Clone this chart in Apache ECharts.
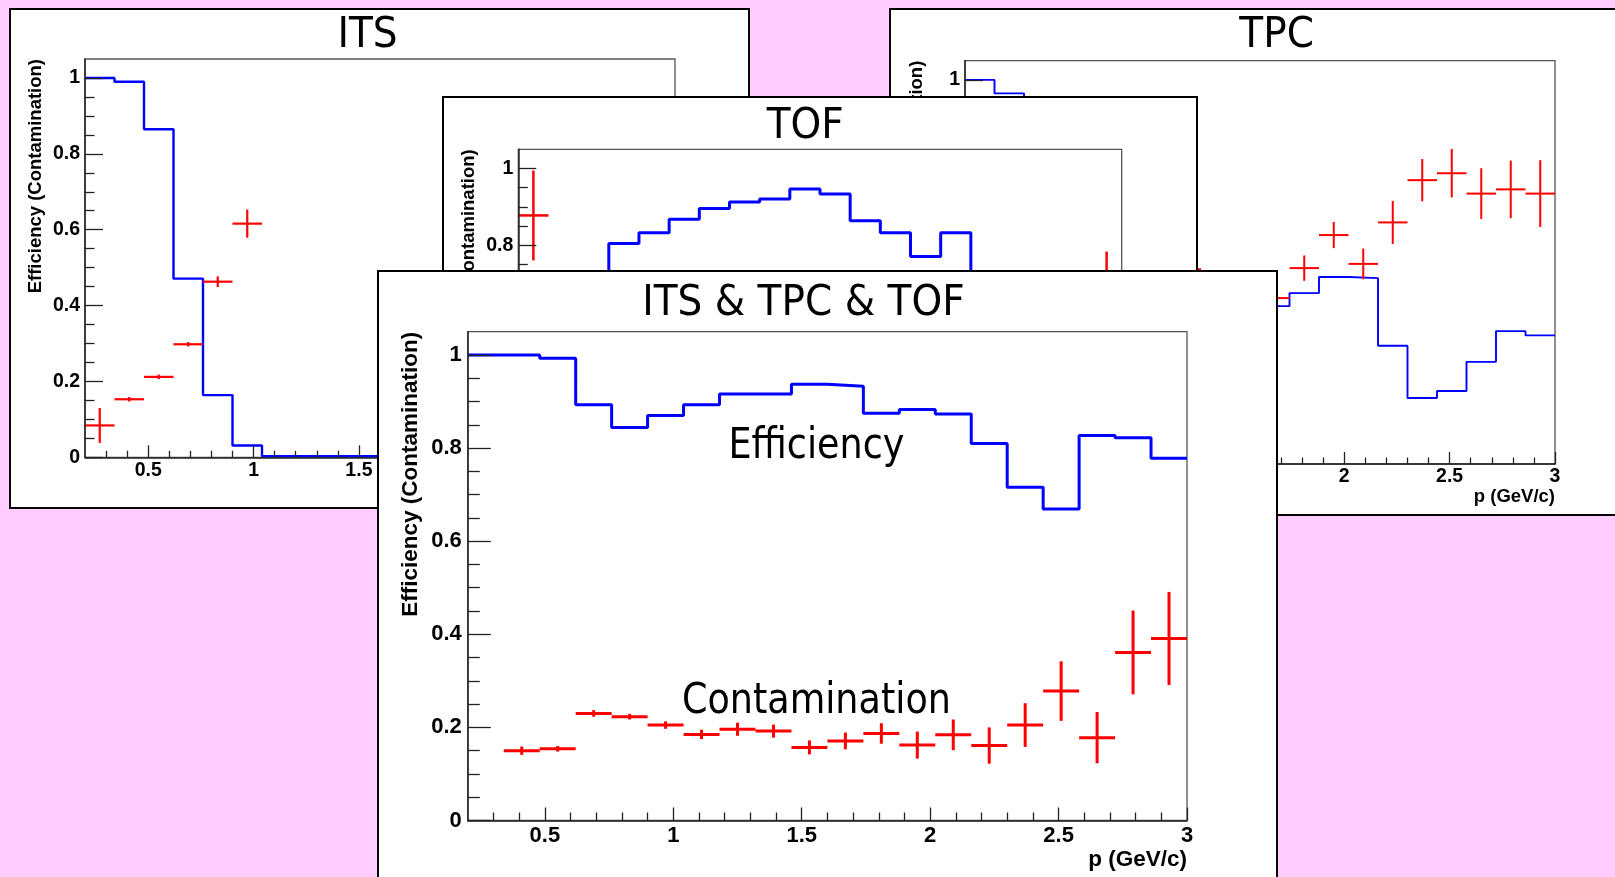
<!DOCTYPE html>
<html>
<head>
<meta charset="utf-8">
<title>Efficiency (Contamination)</title>
<script src="https://cdn.jsdelivr.net/npm/echarts@6.0.0/dist/echarts.min.js"></script>
<style>
	html, body { margin: 0; padding: 0; width: 1615px; height: 877px; overflow: hidden; background: #ffccff; }
	.panel { position: absolute; }
</style>
</head>
<body>
	<div id="its" class="panel" style="left:9px;top:8px;width:741px;height:501px;z-index:1"></div>
	<div id="tpc" class="panel" style="left:889px;top:8px;width:760px;height:508px;z-index:2"></div>
	<div id="tof" class="panel" style="left:442px;top:96px;width:756px;height:480px;z-index:3"></div>
	<div id="all" class="panel" style="left:377px;top:270px;width:901px;height:640px;z-index:4"></div>

	<script type="text/javascript">
		// bins in p (GeV/c)
		var binEdges = [0.2, 0.34, 0.48, 0.62, 0.76, 0.9, 1.04, 1.18, 1.32, 1.46, 1.6,
			1.74, 1.88, 2.02, 2.16, 2.3, 2.44, 2.58, 2.72, 2.86, 3.0];

		// tick positions
		var xMajor = [0.5, 1, 1.5, 2, 2.5, 3];
		var xMinor = [0.3, 0.4, 0.6, 0.7, 0.8, 0.9, 1.1, 1.2, 1.3, 1.4, 1.6, 1.7, 1.8, 1.9,
			2.1, 2.2, 2.3, 2.4, 2.6, 2.7, 2.8, 2.9];
		var yMajor = [0, 0.2, 0.4, 0.6, 0.8, 1];
		var yMinor = [0.05, 0.1, 0.15, 0.25, 0.3, 0.35, 0.45, 0.5, 0.55, 0.65, 0.7, 0.75, 0.85, 0.9, 0.95];

		// ITS (null = bin hidden behind the other pads)
		var itsEff = [1.0, 0.990, 0.865, 0.471, 0.164, 0.031, 0.003, 0.003, 0.003, 0.003,
			null, null, null, null, null, null, null, null, null, null];
		var itsCont = [0.084, 0.153, 0.212, 0.298, 0.463, 0.616, null, null, null, null,
			null, null, null, null, null, null, null, null, null, null];
		var itsContErr = [0.046, 0.006, 0.006, 0.006, 0.014, 0.037, null, null, null, null,
			null, null, null, null, null, null, null, null, null, null];

		// TPC
		var tpcEff = [1.0, 0.965, 0.90, null, null, null, null, null, null, null,
			0.411, 0.445, 0.487, 0.484, 0.308, 0.172, 0.190, 0.266, 0.346, 0.335];
		var tpcCont = [null, null, null, null, null, null, null, 0.507, null, null,
			0.432, 0.510, 0.596, 0.521, 0.629, 0.739, 0.757, 0.704, 0.715, 0.704];
		var tpcContErr = [null, null, null, null, null, null, null, 0.03, null, null,
			0.03, 0.033, 0.034, 0.040, 0.056, 0.055, 0.063, 0.066, 0.075, 0.087];

		// TOF
		var tofEff = [0, 0, 0, 0.805, 0.833, 0.868, 0.896, 0.913, 0.921, 0.947,
			0.934, 0.864, 0.833, 0.771, 0.833, 0.72, null, null, null, null];
		var tofCont = [0.878, null, null, null, null, null, null, null, null, null,
			null, null, null, null, null, null, null, null, null, 0.68];
		var tofContErr = [0.117, null, null, null, null, null, null, null, null, null,
			null, null, null, null, null, null, null, null, null, 0.104];

		// ITS & TPC & TOF
		var allEff = [1.0, 1.0, 0.993, 0.893, 0.844, 0.870, 0.893, 0.916, 0.916, 0.937,
			0.933, 0.875, 0.883, 0.873, 0.810, 0.716, 0.669, 0.827, 0.822, 0.778];
		var allCont = [null, 0.150, 0.154, 0.230, 0.223, 0.205, 0.185, 0.196, 0.192, 0.157,
			0.171, 0.187, 0.162, 0.184, 0.161, 0.205, 0.278, 0.178, 0.361, 0.391];
		var allContErr = [null, 0.009, 0.006, 0.007, 0.006, 0.008, 0.010, 0.014, 0.014, 0.015,
			0.018, 0.022, 0.029, 0.033, 0.039, 0.047, 0.064, 0.055, 0.090, 0.100];

		var boldFont = 'Liberation Sans, Arial, Helvetica, sans-serif';
		var titleFont = 'DejaVu Sans, Verdana, sans-serif';

		// histogram as step points on the bin edges
		function stepData(vals) {
			var pts = [];
			for (var i = 0; i < vals.length; i++) {
				if (vals[i] == null) {
					pts.push([binEdges[i], null]);
					continue;
				}
				pts.push([binEdges[i], vals[i]]);
				pts.push([binEdges[i + 1], vals[i]]);
			}
			return pts;
		}

		// points with x error = half bin, y error bar
		function crossSeries(vals, errs, width) {
			var data = [];
			for (var i = 0; i < vals.length; i++) {
				if (vals[i] == null) continue;
				data.push([(binEdges[i] + binEdges[i + 1]) / 2, vals[i], errs[i], binEdges[i], binEdges[i + 1]]);
			}
			return {
				type: 'custom',
				data: data,
				encode: { x: 0, y: 1 },
				z: 4,
				silent: true,
				renderItem: function(params, api) {
					var v = api.value(1), e = api.value(2);
					var l = api.coord([api.value(3), v]);
					var r = api.coord([api.value(4), v]);
					var t = api.coord([api.value(0), v + e]);
					var b = api.coord([api.value(0), v - e]);
					var st = { stroke: '#ff0000', lineWidth: width };
					return {
						type: 'group',
						children: [
							{ type: 'line', shape: { x1: l[0], y1: l[1], x2: r[0], y2: r[1] }, style: st },
							{ type: 'line', shape: { x1: t[0], y1: t[1], x2: b[0], y2: b[1] }, style: st }
						]
					};
				}
			};
		}

		function drawPanel(id, p) {
			var chart = echarts.init(document.getElementById(id));
			var tickStyle = { color: '#222', width: 1.3 };
			var lbl = { fontFamily: boldFont, fontWeight: 'bold', fontSize: p.labelSize, color: '#000' };

			var graphic = [
				{ type: 'rect', z: 100, silent: true,
					shape: { x: 1, y: 1, width: p.w - 2, height: p.h - 2 },
					style: { fill: 'none', stroke: '#000', lineWidth: 2 } },
				{ type: 'text', z: 10, x: p.titleX, y: p.titleY, scaleX: 0.93,
					style: { text: p.title, fontFamily: titleFont, fontSize: 42, fill: '#000',
						align: 'center', verticalAlign: 'middle' } },
				{ type: 'text', z: 10, x: p.yTitleX, y: p.grid.top, rotation: Math.PI / 2,
					style: { text: 'Efficiency (Contamination)', fontFamily: boldFont, fontWeight: 'bold',
						fontSize: p.titleSize, fill: '#000', align: 'right', verticalAlign: 'middle' } },
				{ type: 'text', z: 10, x: p.grid.left + p.grid.width, y: p.xTitleY,
					style: { text: 'p (GeV/c)', fontFamily: boldFont, fontWeight: 'bold',
						fontSize: p.titleSize, fill: '#000', align: 'right', verticalAlign: 'middle' } }
			];
			if (p.extra) graphic = graphic.concat(p.extra);

			chart.setOption({
				animation: false,
				backgroundColor: '#ffffff',
				grid: { left: p.grid.left, top: p.grid.top, width: p.grid.width, height: p.grid.height,
					show: true, borderColor: '#555', borderWidth: 1.3, backgroundColor: 'transparent' },
				xAxis: [{
					type: 'value', min: 0.2, max: 3, position: 'bottom', offset: 0, z: 5,
					axisLine: { show: true, onZero: false, lineStyle: { color: '#222', width: 1.5 } },
					axisTick: { show: true, inside: true, length: p.xMajorLen, customValues: xMajor, lineStyle: tickStyle },
					axisLabel: Object.assign({ show: true, customValues: xMajor, margin: p.xLabelMargin }, lbl),
					splitLine: { show: false }
				}, {
					type: 'value', min: 0.2, max: 3, position: 'bottom', offset: 0, z: 5,
					axisLine: { show: false },
					axisTick: { show: true, inside: true, length: p.xMinorLen, customValues: xMinor, lineStyle: tickStyle },
					axisLabel: { show: false },
					splitLine: { show: false }
				}],
				yAxis: [{
					type: 'value', min: 0, max: 1.05, position: 'left', offset: 0, z: 5,
					axisLine: { show: true, onZero: false, lineStyle: { color: '#222', width: 1.5 } },
					axisTick: { show: true, inside: true, length: p.yMajorLen, customValues: yMajor, lineStyle: tickStyle },
					axisLabel: Object.assign({ show: true, customValues: yMajor, margin: p.yLabelMargin }, lbl),
					splitLine: { show: false }
				}, {
					type: 'value', min: 0, max: 1.05, position: 'left', offset: 0, z: 5,
					axisLine: { show: false },
					axisTick: { show: true, inside: true, length: p.yMinorLen, customValues: yMinor, lineStyle: tickStyle },
					axisLabel: { show: false },
					splitLine: { show: false }
				}],
				series: [{
					type: 'line',
					data: stepData(p.eff),
					symbol: 'none',
					connectNulls: false,
					silent: true,
					z: 3,
					lineStyle: { color: '#0000ff', width: p.effWidth },
					itemStyle: { color: '#0000ff' }
				}, crossSeries(p.cont, p.err, p.contWidth)],
				graphic: graphic
			});
		}

		var small = { labelSize: 19.5, titleSize: 18.5, xMajorLen: 12, xMinorLen: 6.5,
			yMajorLen: 18, yMinorLen: 9.5, xLabelMargin: 3, yLabelMargin: 5 };

		drawPanel('its', Object.assign({}, small, {
			w: 741, h: 501, grid: { left: 76, top: 51, width: 590, height: 398.3 },
			title: 'ITS', titleX: 358.5, titleY: 28.5, yTitleX: 27.2, xTitleY: 489,
			eff: itsEff, cont: itsCont, err: itsContErr, effWidth: 2.4, contWidth: 2.2
		}));

		drawPanel('tpc', Object.assign({}, small, {
			w: 760, h: 508, grid: { left: 76, top: 52.7, width: 590, height: 403.3 },
			title: 'TPC', titleX: 387.7, titleY: 28.5, yTitleX: 28.4, xTitleY: 489.4,
			eff: tpcEff, cont: tpcCont, err: tpcContErr, effWidth: 1.9, contWidth: 2
		}));

		drawPanel('tof', Object.assign({}, small, {
			w: 756, h: 480, grid: { left: 76.3, top: 53.3, width: 603.4, height: 404.7 },
			title: 'TOF', titleX: 363.3, titleY: 31.3, yTitleX: 27.2, xTitleY: 470,
			eff: tofEff, cont: tofCont, err: tofContErr, effWidth: 3, contWidth: 2.5
		}));

		drawPanel('all', {
			w: 901, h: 640, grid: { left: 90.8, top: 61.7, width: 719.2, height: 488.8 },
			labelSize: 22, titleSize: 22.5, xMajorLen: 13, xMinorLen: 8, yMajorLen: 23, yMinorLen: 12,
			xLabelMargin: 4.5, yLabelMargin: 6,
			title: 'ITS & TPC & TOF', titleX: 426.4, titleY: 34, yTitleX: 33.4, xTitleY: 589.6,
			eff: allEff, cont: allCont, err: allContErr, effWidth: 3, contWidth: 3,
			extra: [
				{ type: 'text', z: 10, x: 439.4, y: 177.5, scaleX: 0.87,
					style: { text: 'Efficiency', fontFamily: titleFont, fontSize: 42, fill: '#000',
						align: 'center', verticalAlign: 'middle' } },
				{ type: 'text', z: 10, x: 439.4, y: 432.4, scaleX: 0.87,
					style: { text: 'Contamination', fontFamily: titleFont, fontSize: 42, fill: '#000',
						align: 'center', verticalAlign: 'middle' } }
			]
		});
	</script>
</body>
</html>
